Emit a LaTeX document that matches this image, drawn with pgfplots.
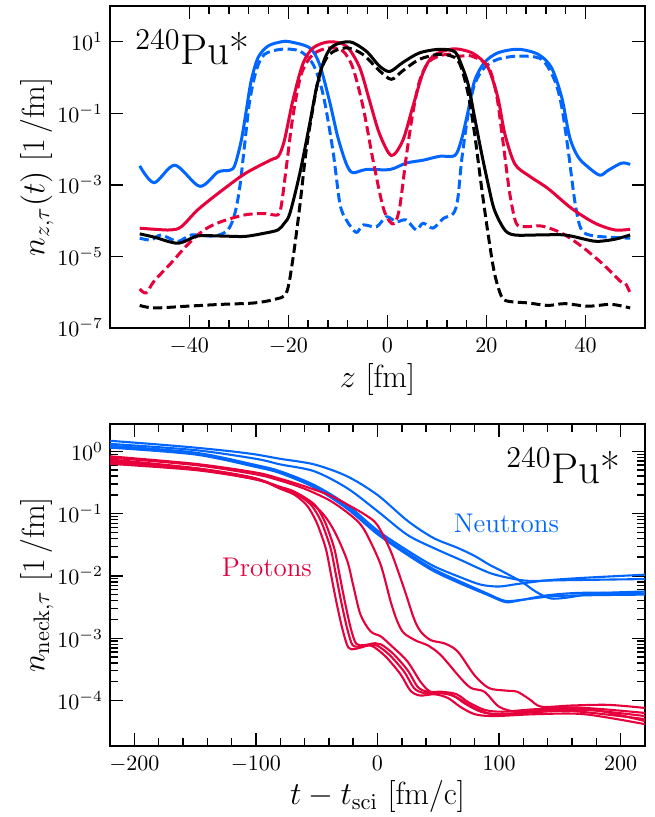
\RequirePackage{fix-cm}
\documentclass[border=0pt]{standalone}
\usepackage{pgfplots}
\pgfplotsset{compat=1.18}
\definecolor{nblue}{HTML}{0066FF}
\definecolor{pred}{HTML}{E6003C}

\begin{document}
\begin{tikzpicture}
\pgfplotsset{
  every axis/.append style={
    scale only axis, width=267.5pt, height=161pt,
    tick align=inside, major tick length=6.7pt, minor tick length=3.8pt,
    every tick/.style={black, line width=0.7pt},
    axis line style={line width=0.85pt},
    tick label style={font=\fontsize{11}{13}\selectfont},
    xticklabel style={yshift=-1.8pt},
    label style={font=\fontsize{16}{19}\selectfont},
    minor x tick num=4,
    ymode=log,
  },
  top line/.style={line width=1.5pt, smooth, line join=round},
  bot line/.style={line width=1.05pt, smooth, line join=round},
  dashed line/.style={dash pattern=on 4.6pt off 2.2pt},
}

% upper panel: density profiles along z
\begin{axis}[name=top, at={(0,209pt)}, anchor=south west,
  xmin=-56, xmax=52, ymin=1e-7, ymax=1e2,
  xtick={-40,-20,0,20,40}, ytick={1e-7,1e-5,1e-3,1e-1,1e1}, yminorticks=false,
  xlabel={$z$ [fm]}, ylabel={$n_{z,\tau}(t)$ [1\,/fm]},
  xlabel style={at={(axis description cs:0.5,-0.1615)}, anchor=center},
  ylabel style={at={(axis description cs:-0.1364,0.5)}, anchor=center}]
% neutrons, solid
\addplot[nblue, top line] coordinates {(-50,3.39e-3) (-47.1,1.15e-3) (-42.9,3.55e-3) (-37.9,9.12e-4) (-34.2,2.29e-3) (-31.8,2.57e-3) (-30.8,3.55e-3) (-29.5,1.74e-2) (-28.5,0.117) (-27.5,0.813) (-26.1,3.63) (-24.1,7.59) (-21.4,10.0) (-19.7,10.0) (-15.7,6.76) (-13.7,2.34) (-11.7,0.224) (-10.0,2.14e-2) (-8.3,3.89e-3) (-7.0,2.19e-3) (-4.3,2.69e-3) (0.5,2.69e-3) (3.8,4.07e-3) (7.2,4.90e-3) (10.6,6.31e-3) (13.6,6.61e-3) (14.9,1.74e-2) (16.3,0.117) (17.6,0.813) (19.6,2.63) (22.3,4.90) (26.4,6.17) (30.4,4.47) (33.1,1.91) (35.2,0.275) (36.8,2.14e-2) (38.5,6.03e-3) (40.5,3.16e-3) (42.9,1.86e-3) (44.6,2.57e-3) (47.3,4.07e-3) (49.0,3.72e-3)};
% neutrons, dashed
\addplot[nblue, top line, dashed line] coordinates {(-50,3.24e-5) (-47.7,2.88e-5) (-45.7,3.98e-5) (-42.3,2.63e-5) (-39.6,3.98e-5) (-34.9,3.72e-5) (-32.2,5.50e-5) (-30.8,1.58e-4) (-29.8,8.71e-4) (-28.8,1.41e-2) (-27.8,0.224) (-26.4,1.70) (-24.8,4.47) (-21.4,6.17) (-17.7,5.50) (-15.0,2.34) (-13.0,0.347) (-11.0,9.12e-3) (-9.6,3.02e-4) (-8.3,1.05e-4) (-6.3,4.68e-5) (-4.9,7.59e-5) (-2.2,6.76e-5) (-0.2,1.29e-4) (1.8,9.33e-5) (3.8,1.05e-4) (5.8,5.50e-5) (7.2,8.51e-5) (9.2,6.17e-5) (11.3,1.15e-4) (13.3,1.58e-4) (14.2,4.0e-4) (15.0,5.0e-3) (16.3,9.55e-2) (17.6,0.646) (19.6,1.91) (22.3,3.24) (26.4,3.98) (31.1,3.24) (33.8,0.813) (35.2,0.148) (36.5,9.12e-3) (37.9,3.02e-4) (39.2,5.50e-5) (41.9,3.72e-5) (49.0,3.24e-5)};
% protons, solid
\addplot[pred, top line] coordinates {(-50,6.17e-5) (-47.1,5.75e-5) (-43.7,5.50e-5) (-41.6,6.76e-5) (-38.3,2.0e-4) (-34.2,5.75e-4) (-28.8,2.04e-3) (-23.5,5.01e-3) (-22.0,6.31e-3) (-20.8,1.74e-2) (-19.1,0.224) (-17.1,2.34) (-15.0,6.76) (-11.7,10.0) (-8.3,7.59) (-5.6,1.91) (-3.6,0.224) (-1.6,2.69e-2) (0.8,6.61e-3) (3.1,1.74e-2) (5.1,0.148) (7.2,1.38) (9.2,3.98) (12.6,6.17) (15.0,6.0) (17.6,4.47) (20.3,1.91) (22.3,0.275) (23.7,2.69e-2) (25.7,3.89e-3) (28.4,1.86e-3) (32.4,7.94e-4) (37.2,2.19e-4) (41.9,8.51e-5) (45.9,5.50e-5) (49.0,5.75e-5)};
% protons, dashed
\addplot[pred, top line, dashed line] coordinates {(-50,1.23e-6) (-48.7,9.55e-7) (-47.1,2.04e-6) (-43.7,6.46e-6) (-40.4,2.09e-5) (-37.0,5.50e-5) (-33.6,9.33e-5) (-28.8,1.45e-4) (-24.8,1.58e-4) (-22.1,1.45e-4) (-21.4,2.75e-4) (-20.4,3.16e-3) (-19.1,7.76e-2) (-17.4,1.23) (-15.0,4.47) (-11.7,6.76) (-9.0,5.50) (-7.0,1.91) (-4.9,0.148) (-2.9,4.90e-3) (-0.9,2.45e-4) (0.5,9.33e-5) (1.5,8.51e-5) (2.5,2.45e-4) (3.8,6.03e-3) (5.1,9.55e-2) (6.5,0.813) (8.5,2.88) (11.9,4.47) (14.6,3.98) (17.0,3.98) (20.3,2.09) (22.0,0.347) (23.3,1.74e-2) (24.7,5.75e-4) (26.0,8.51e-5) (27.7,6.76e-5) (31.1,7.08e-5) (35.2,4.47e-5) (39.2,1.91e-5) (43.3,6.46e-6) (47.0,2.04e-6) (48.0,1.82e-6) (49.0,9.55e-7)};
% total, solid
\addplot[black, top line] coordinates {(-50,4.27e-5) (-47.1,3.47e-5) (-42.3,2.34e-5) (-38.3,3.72e-5) (-33.6,3.72e-5) (-28.8,3.63e-5) (-24.8,4.47e-5) (-22.1,5.50e-5) (-20.8,8.51e-5) (-19.7,1.58e-4) (-17.7,2.04e-3) (-15.7,5.01e-2) (-14.3,0.525) (-12.7,3.24) (-11.0,7.59) (-7.6,10.0) (-4.3,5.50) (-1.6,2.09) (0.5,1.48) (3.1,2.63) (6.5,4.90) (10.6,6.17) (13.6,5.25) (14.9,2.34) (16.3,0.646) (17.6,7.76e-2) (18.9,9.12e-3) (20.3,1.10e-3) (21.6,2.0e-4) (23.7,5.50e-5) (25.7,3.98e-5) (30.4,3.98e-5) (35.8,3.98e-5) (40.5,2.88e-5) (42.5,2.63e-5) (45.9,3.02e-5) (49.0,3.98e-5)};
% total, dashed
\addplot[black, top line, dashed line] coordinates {(-50,4.27e-7) (-47.1,3.63e-7) (-40.4,4.07e-7) (-33.6,4.57e-7) (-26.9,5.01e-7) (-22.8,6.31e-7) (-20.4,9.55e-7) (-19.1,8.13e-6) (-17.7,2.45e-4) (-16.4,9.12e-3) (-15.0,0.148) (-13.7,1.23) (-11.7,4.47) (-8.3,6.76) (-5.0,4.47) (-1.6,1.55) (0.8,0.891) (3.1,1.55) (6.5,3.24) (10.6,4.47) (13.6,3.63) (14.9,1.91) (16.3,0.347) (17.6,2.69e-2) (18.9,1.10e-3) (20.3,4.47e-5) (21.6,3.47e-6) (23.0,7.76e-7) (24.3,5.62e-7) (28.4,5.01e-7) (32.4,4.27e-7) (35.8,4.79e-7) (40.5,4.07e-7) (45.2,4.57e-7) (49.0,3.63e-7)};
\node[anchor=base west, inner sep=0, font=\fontsize{21.5}{26}\selectfont] at (rel axis cs:0.0467,0.8168) {$^{240}$Pu*};
\end{axis}

% lower panel: neck densities vs time
\begin{axis}[name=bot, at={(0,0)}, anchor=south west,
  xmin=-220, xmax=220, ymin=1.86e-5, ymax=2.75,
  xtick={-200,-100,0,100,200}, ytick={1e-4,1e-3,1e-2,1e-1,1},
  xlabel={$t - t_{\mathrm{sci}}$ [fm/c]}, ylabel={$n_{\mathrm{neck},\tau}$ [1\,/fm]},
  xlabel style={at={(axis description cs:0.5,-0.157)}, anchor=center},
  ylabel style={at={(axis description cs:-0.1364,0.5)}, anchor=center}]
% neutrons
\addplot[nblue, bot line] coordinates {(-220,1.479) (-180,1.288) (-150,1.148) (-120,1.0) (-100,0.891) (-80,0.759) (-52,0.617) (-25,0.398) (0,0.1995) (25,7.586e-2) (46,4.074e-2) (66,2.818e-2) (80,2.089e-2) (92,1.514e-2) (105,1.122e-2) (119,7.943e-3) (130,5.623e-3) (142,4.365e-3) (155,4.467e-3) (180,5.248e-3) (220,5.623e-3)};
\addplot[nblue, bot line] coordinates {(-220,1.318) (-150,1.047) (-100,0.759) (-80,0.617) (-52,0.479) (-25,0.257) (0,0.1096) (24.5,4.571e-2) (46,2.818e-2) (68,1.820e-2) (92,1.122e-2) (110,9.120e-3) (125,8.318e-3) (150,8.511e-3) (220,8.913e-3)};
\addplot[nblue, bot line] coordinates {(-220,1.230) (-150,0.955) (-100,0.603) (-80,0.479) (-52,0.288) (-25,0.138) (0,5.370e-2) (24.5,2.570e-2) (46,1.445e-2) (68,9.550e-3) (85,7.244e-3) (100,6.761e-3) (115,7.413e-3) (140,8.511e-3) (170,9.333e-3) (220,1.047e-2)};
\addplot[nblue, bot line] coordinates {(-220,1.175) (-150,0.912) (-100,0.575) (-80,0.457) (-52,0.269) (-25,0.126) (0,4.898e-2) (24.5,2.344e-2) (46,1.288e-2) (68,8.128e-3) (90,5.248e-3) (105,3.981e-3) (120,4.169e-3) (150,4.786e-3) (220,5.012e-3)};
\addplot[nblue, bot line] coordinates {(-220,1.148) (-150,0.891) (-100,0.562) (-80,0.447) (-52,0.263) (-25,0.120) (0,4.677e-2) (24.5,2.188e-2) (46,1.202e-2) (68,7.586e-3) (90,5.012e-3) (105,3.802e-3) (115,3.981e-3) (140,4.898e-3) (170,5.370e-3) (220,5.248e-3)};
% protons
\addplot[pred, bot line] coordinates {(-220,0.832) (-150,0.631) (-100,0.457) (-80,0.363) (-60,0.275) (-40,0.1995) (-25,0.141) (-10,9.550e-2) (-0.2,6.607e-2) (10.8,2.512e-2) (21.8,6.310e-3) (29.9,2.089e-3) (35.4,1.288e-3) (43.6,9.333e-4) (54.6,8.318e-4) (62.8,6.918e-4) (68.3,5.370e-4) (80,2.512e-4) (91.6,1.585e-4) (105,1.445e-4) (115,1.380e-4) (125,1.047e-4) (135,7.943e-5) (160,8.318e-5) (190,8.511e-5) (220,7.586e-5)};
\addplot[pred, bot line] coordinates {(-220,0.794) (-150,0.603) (-100,0.427) (-80,0.339) (-60,0.251) (-40,0.166) (-25,0.105) (-15,7.079e-2) (-8.6,4.571e-2) (2.6,1.514e-2) (10.8,3.890e-3) (16.3,1.862e-3) (21.8,1.202e-3) (32.8,8.913e-4) (41,7.762e-4) (52,5.370e-4) (68.3,2.291e-4) (77,1.585e-4) (88,1.380e-4) (100,7.943e-5) (115,6.607e-5) (140,7.079e-5) (170,7.586e-5) (220,6.310e-5)};
\addplot[pred, bot line] coordinates {(-220,0.741) (-150,0.537) (-100,0.355) (-80,0.263) (-60,0.178) (-45,0.1) (-35,5.012e-2) (-25,1.778e-2) (-20,7.079e-3) (-14,2.399e-3) (-5.7,1.288e-3) (2.6,1.072e-3) (10.8,7.762e-4) (24.5,4.266e-4) (35.4,1.995e-4) (43.6,1.380e-4) (55,1.318e-4) (65,1.122e-4) (80,7.586e-5) (95,6.026e-5) (120,6.310e-5) (160,6.761e-5) (220,5.012e-5)};
\addplot[pred, bot line] coordinates {(-220,0.692) (-150,0.537) (-103,0.380) (-80,0.251) (-68,0.1995) (-58,0.135) (-51,7.943e-2) (-46,4.467e-2) (-42,2.512e-2) (-38,1.0e-2) (-34,3.981e-3) (-29,1.445e-3) (-24,7.079e-4) (-18,6.761e-4) (-8,7.586e-4) (-3,7.244e-4) (7,5.012e-4) (19,2.630e-4) (27,1.445e-4) (35,1.202e-4) (47,1.259e-4) (58,1.096e-4) (68,7.943e-5) (80,6.026e-5) (96,5.623e-5) (130,6.026e-5) (170,6.026e-5) (220,4.169e-5)};
\addplot[pred, bot line] coordinates {(-220,0.661) (-150,0.525) (-103,0.380) (-80,0.263) (-68,0.214) (-55,0.141) (-47,7.943e-2) (-42,4.467e-2) (-38,2.512e-2) (-34,1.0e-2) (-30,3.981e-3) (-25,1.445e-3) (-20.5,7.762e-4) (-14,7.413e-4) (-5,7.943e-4) (0,7.586e-4) (10,5.370e-4) (22,2.884e-4) (30,1.585e-4) (38,1.318e-4) (50,1.318e-4) (62,1.202e-4) (72,8.913e-5) (85,6.607e-5) (100,6.026e-5) (130,6.607e-5) (170,7.079e-5) (220,5.623e-5)};
\addplot[pred, bot line] coordinates {(-220,0.631) (-150,0.501) (-103,0.363) (-80,0.269) (-68,0.224) (-52,0.141) (-44,7.943e-2) (-39,4.467e-2) (-35,2.512e-2) (-31,1.0e-2) (-27,3.981e-3) (-22,1.445e-3) (-17.5,8.128e-4) (-11,7.762e-4) (-2,8.318e-4) (3,7.943e-4) (13,5.623e-4) (25,3.020e-4) (33,1.660e-4) (41,1.380e-4) (53,1.380e-4) (65,1.259e-4) (75,9.333e-5) (88,7.079e-5) (103,6.607e-5) (130,7.244e-5) (170,7.586e-5) (220,4.677e-5)};
\node[anchor=base, nblue, font=\fontsize{13.5}{16}\selectfont] at (axis cs:106,0.049) {Neutrons};
\node[anchor=base, pred, font=\fontsize{13.5}{16}\selectfont] at (axis cs:-91,0.0098) {Protons};
\node[anchor=base east, inner sep=0, font=\fontsize{21.5}{26}\selectfont] at (rel axis cs:0.9546,0.8158) {$^{240}$Pu*};
\end{axis}

\pgfresetboundingbox
\useasboundingbox (-55pt,-35.5pt) rectangle (272pt,373pt);
\end{tikzpicture}
\end{document}
